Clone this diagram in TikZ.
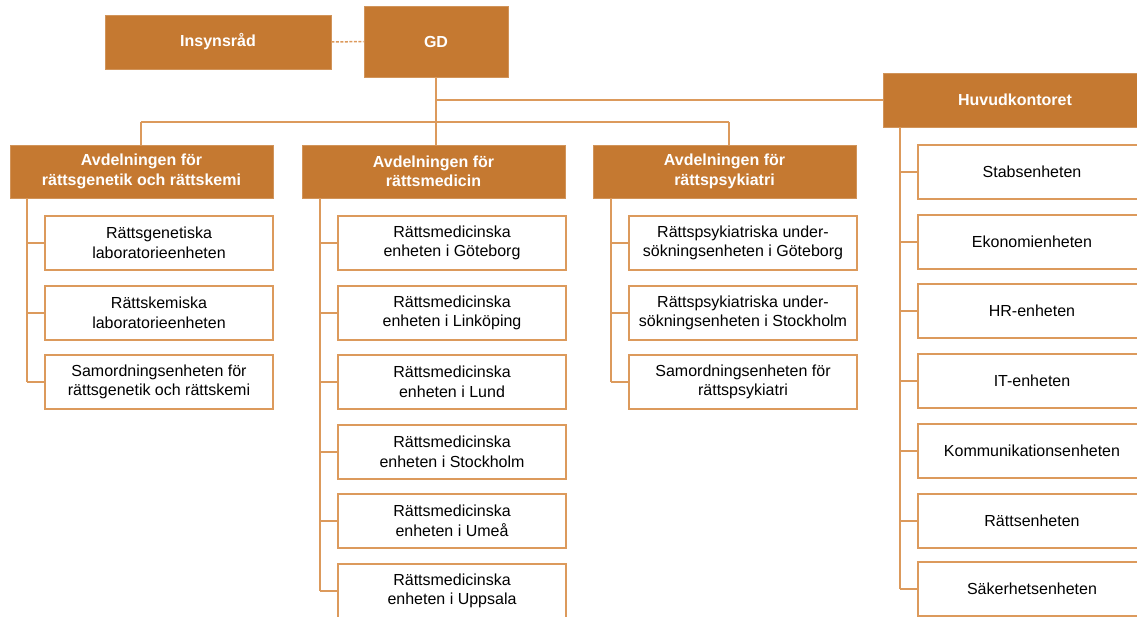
\documentclass[tikz,border=0pt]{standalone}
\usepackage{fontspec}
\setmainfont{Liberation Sans}
\definecolor{rmvorange}{HTML}{C57931}
\definecolor{rmvline}{HTML}{DC9A5C}
\begin{document}
\begin{tikzpicture}[x=1pt,y=-1pt,
  head/.style={fill=rmvorange,draw=rmvorange!80!white,line width=0.8pt,text=white,font=\fontsize{16}{19.5}\selectfont\bfseries,align=center,inner sep=0pt},
  unit/.style={fill=white,draw=rmvline,line width=1.5pt,font=\fontsize{16}{19.5}\selectfont,align=center,minimum width=228pt,minimum height=54pt,inner sep=0pt},
  conn/.style={draw=rmvline,line width=1.5pt}]
\useasboundingbox (0,0) rectangle (1137,616);
\clip (0,0) rectangle (1137,616);
% top
\node[head,minimum width=226pt,minimum height=54pt] (ins) at (218,42) {Insynsråd};
\node[head,minimum width=144pt,minimum height=71pt] (gd) at (436,41.5) {GD};
\node[head,minimum width=264pt,minimum height=54pt] (huv) at (1015,100) {Huvudkontoret};
% departments
\node[head,minimum width=263pt,minimum height=53pt] (d1) at (141.5,171.5) {Avdelningen för\\rättsgenetik och rättskemi};
\node[head,minimum width=263pt,minimum height=53pt] (d2) at (433.5,171.5) {Avdelningen för\\rättsmedicin};
\node[head,minimum width=263pt,minimum height=53pt] (d3) at (724.5,171.5) {Avdelningen för\\rättspsykiatri};
% connectors top
\draw[conn,dashed,dash pattern=on 3pt off 1.5pt,line width=1.5pt] (ins.east) -- (gd.west);
\coordinate (bar1) at (141,122);
\coordinate (bar3) at (729,122);
\draw[conn] (gd.south) -- (gd.south |- d2.north);
\draw[conn] (gd.south |- huv.west) -- (huv.west);
\draw[conn] (bar1) -- (bar3);
\draw[conn] (bar1) -- (bar1 |- d1.north);
\draw[conn] (bar3) -- (bar3 |- d3.north);
% dept 1 units
\node[unit] (a1) at (159,243) {Rättsgenetiska\\laboratorieenheten};
\node[unit] (a2) at (159,313) {Rättskemiska\\laboratorieenheten};
\node[unit] (a3) at (159,382) {Samordningsenheten för\\rättsgenetik och rättskemi};
% dept 2 units
\node[unit] (b1) at (452,243) {Rättsmedicinska\\enheten i Göteborg};
\node[unit] (b2) at (452,313) {Rättsmedicinska\\enheten i Linköping};
\node[unit] (b3) at (452,382) {Rättsmedicinska\\enheten i Lund};
\node[unit] (b4) at (452,452) {Rättsmedicinska\\enheten i Stockholm};
\node[unit] (b5) at (452,521) {Rättsmedicinska\\enheten i Umeå};
\node[unit] (b6) at (452,591) {Rättsmedicinska\\enheten i Uppsala};
% dept 3 units
\node[unit] (c1) at (743,243) {Rättspsykiatriska under-\\sökningsenheten i Göteborg};
\node[unit] (c2) at (743,313) {Rättspsykiatriska under-\\sökningsenheten i Stockholm};
\node[unit] (c3) at (743,382) {Samordningsenheten för\\rättspsykiatri};
% huvudkontoret units
\node[unit] (h1) at (1032,172) {Stabsenheten};
\node[unit] (h2) at (1032,242) {Ekonomienheten};
\node[unit] (h3) at (1032,311) {HR-enheten};
\node[unit] (h4) at (1032,381) {IT-enheten};
\node[unit] (h5) at (1032,451) {Kommunikationsenheten};
\node[unit] (h6) at (1032,521) {Rättsenheten};
\node[unit] (h7) at (1032,589) {Säkerhetsenheten};
% spines
\coordinate (s1) at (27,198);
\coordinate (s2) at (320,198);
\coordinate (s3) at (611,198);
\coordinate (s4) at (900,127);
\draw[conn] (s1) -- (s1 |- a3.west);
\foreach \n in {a1,a2,a3} \draw[conn] (s1 |- \n.west) -- (\n.west);
\draw[conn] (s2) -- (s2 |- b6.west);
\foreach \n in {b1,b2,b3,b4,b5,b6} \draw[conn] (s2 |- \n.west) -- (\n.west);
\draw[conn] (s3) -- (s3 |- c3.west);
\foreach \n in {c1,c2,c3} \draw[conn] (s3 |- \n.west) -- (\n.west);
\draw[conn] (s4) -- (s4 |- h7.west);
\foreach \n in {h1,h2,h3,h4,h5,h6,h7} \draw[conn] (s4 |- \n.west) -- (\n.west);
\end{tikzpicture}
\end{document}
